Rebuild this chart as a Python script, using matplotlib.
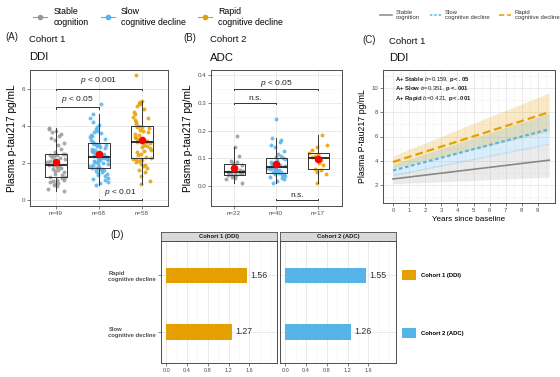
import numpy as np
import matplotlib.pyplot as plt
from matplotlib.lines import Line2D
from matplotlib.ticker import MultipleLocator

plt.rcParams['font.family'] = ['Liberation Sans', 'DejaVu Sans']
plt.rcParams['mathtext.fontset'] = 'custom'
plt.rcParams['mathtext.rm'] = 'Liberation Sans'
plt.rcParams['mathtext.it'] = 'Liberation Sans:italic'
plt.rcParams['mathtext.bf'] = 'Liberation Sans:bold'

# Grupos e cores
grupos = ['Stable\ncognition', 'Slow\ncognitive decline', 'Rapid\ncognitive decline']
cores = ['#999999', '#56B4E9', '#E69F00']

# (A) Coorte 1 (DDI) - p-tau217 pg/mL
ddi_stable = [0.48, 0.62, 0.75, 0.82, 0.88, 0.93, 0.98, 1.02, 1.08, 1.12, 1.18, 1.24,
              1.28, 1.35, 1.42, 1.5, 1.56, 1.62, 1.68, 1.74, 1.8, 1.85, 1.88, 1.9,
              1.92, 1.98, 2.05, 2.1, 2.15, 2.2, 2.26, 2.32, 2.38, 2.42, 2.46, 2.48,
              2.5, 2.62, 2.78, 2.95, 3.1, 3.22, 3.35, 3.45, 3.55, 3.65, 3.72, 3.82, 3.9]
ddi_slow = [0.85, 0.92, 1.0, 1.08, 1.15, 1.22, 1.3, 1.36, 1.42, 1.48, 1.53, 1.58, 1.62,
            1.66, 1.69, 1.72, 1.74, 1.76, 1.8, 1.85, 1.9, 1.94, 1.98, 2.02, 2.06, 2.1,
            2.13, 2.16, 2.19, 2.22, 2.25, 2.28, 2.3, 2.31, 2.33, 2.37, 2.42, 2.47, 2.52,
            2.57, 2.62, 2.67, 2.72, 2.77, 2.82, 2.87, 2.92, 2.96, 3.0, 3.03, 3.05, 3.1,
            3.15, 3.22, 3.3, 3.38, 3.45, 3.52, 3.6, 3.68, 3.75, 3.85, 3.95, 4.05, 4.2,
            4.4, 4.65, 5.2]
ddi_rapid = [0.9, 1.05, 1.3, 1.5, 1.65, 1.75, 1.85, 1.92, 1.98, 2.04, 2.1, 2.15, 2.2,
             2.23, 2.24, 2.28, 2.35, 2.42, 2.5, 2.58, 2.65, 2.72, 2.8, 2.87, 2.93, 3.0,
             3.06, 3.12, 3.14, 3.16, 3.2, 3.25, 3.3, 3.36, 3.42, 3.5, 3.58, 3.65, 3.72,
             3.8, 3.87, 3.93, 3.95, 3.98, 4.1, 4.2, 4.3, 4.4, 4.5, 4.62, 4.75, 4.9, 5.05,
             5.2, 5.25, 5.3, 5.35, 6.75]
ddi_n = ['n=49', 'n=68', 'n=58']

# (B) Coorte 2 (ADC)
adc_stable = [0.01, 0.025, 0.03, 0.035, 0.038, 0.04, 0.041, 0.043, 0.045, 0.047, 0.049,
              0.051, 0.055, 0.06, 0.07, 0.078, 0.082, 0.088, 0.092, 0.11, 0.14, 0.18]
adc_slow = [0.012, 0.02, 0.025, 0.03, 0.034, 0.038, 0.041, 0.043, 0.045, 0.046, 0.048,
            0.05, 0.052, 0.055, 0.058, 0.06, 0.062, 0.064, 0.066, 0.067, 0.069, 0.071,
            0.074, 0.077, 0.08, 0.084, 0.088, 0.093, 0.098, 0.102, 0.104, 0.108, 0.115,
            0.125, 0.14, 0.15, 0.16, 0.165, 0.172, 0.242]
adc_rapid = [0.01, 0.045, 0.05, 0.058, 0.063, 0.075, 0.085, 0.095, 0.102, 0.105, 0.11,
             0.115, 0.12, 0.13, 0.14, 0.148, 0.185]
adc_n = ['n=22', 'n=40', 'n=17']

# (C) Modelo longitudinal - ajuste e IC 95%
anos = [0, 9.7]
ajuste = {'stable': [2.5, 4.05], 'slow': [3.2, 6.6], 'rapid': [3.9, 8.0]}
ic_inf = {'stable': [2.1, 2.65], 'slow': [2.75, 5.35], 'rapid': [3.4, 6.4]}
ic_sup = {'stable': [2.9, 5.45], 'slow': [3.7, 7.9], 'rapid': [4.4, 9.6]}
nomes_c = ['Stable', 'Slow', 'Rapid']
coef_b = ['0.159', '0.351', '0.421']
valor_p = ['.05', '.001', '.001']

# (D) razao
d_cat = ['Slow\ncognitive decline', 'Rapid\ncognitive decline']
d_ddi = [1.27, 1.56]
d_adc = [1.26, 1.55]

W, H = 560, 377
fig = plt.figure(figsize=(5.6, 3.77), dpi=100)


def caixa(x0, y0, x1, y1):
    return [x0 / W, 1 - y1 / H, (x1 - x0) / W, (y1 - y0) / H]


def estilo(ax, tam=4.5):
    for s in ax.spines.values():
        s.set_color('#4d4d4d')
        s.set_linewidth(0.7)
    ax.grid(True, which='major', color='#E6E6E6', lw=0.6)
    ax.grid(True, which='minor', color='#F2F2F2', lw=0.4)
    ax.set_axisbelow(True)
    ax.tick_params(which='major', length=2, width=0.5, color='#4d4d4d',
                   labelsize=tam, labelcolor='#4d4d4d', pad=1.5)
    ax.tick_params(which='minor', length=0)


def boxes(ax, dados):
    for i, (vals, cor) in enumerate(zip(dados, cores)):
        vals = np.asarray(vals)
        k = np.arange(len(vals)) + 7 * i + 1
        # deslocamento horizontal fixo (jitter deterministico)
        jit = ((np.sin(k * 12.9898) * 43758.5453) % 1 - 0.5) * 0.42
        ax.scatter(i + 1 + jit, vals, s=8, color=cor, alpha=0.85, lw=0, zorder=2)
    ax.boxplot(dados, positions=[1, 2, 3], widths=0.5, showfliers=False, showcaps=False,
               boxprops=dict(color='#333333', lw=0.7),
               whiskerprops=dict(color='#333333', lw=0.7),
               medianprops=dict(color='#111111', lw=1.2), zorder=3)
    ax.scatter([1, 2, 3], [np.mean(v) for v in dados], s=30, color='red', lw=0, zorder=4)


def colchete(ax, x0, x1, y, h, txt, ty):
    ax.plot([x0, x0, x1, x1], [y - h, y, y, y - h], color='#333333', lw=0.7, zorder=5)
    ax.text((x0 + x1) / 2, ty, txt, ha='center', va='center', fontsize=6, color='#222222')


# ---- (A)
axA = fig.add_axes(caixa(30, 70, 168, 206))
boxes(axA, [ddi_stable, ddi_slow, ddi_rapid])
axA.set_xlim(0.4, 3.6)
axA.set_ylim(-0.3, 7.0)
axA.set_xticks([1, 2, 3])
axA.set_xticklabels(ddi_n)
axA.set_yticks([0, 2, 4, 6])
axA.yaxis.set_minor_locator(MultipleLocator(1))
estilo(axA)
axA.set_ylabel('Plasma p-tau217 pg/mL', fontsize=7.3, labelpad=3)
colchete(axA, 1, 3, 6.0, 0.08, r'$p$ < 0.001', 6.42)
colchete(axA, 1, 2, 5.0, 0.08, r'$p$ < 0.05', 5.42)
colchete(axA, 2, 3, 0.0, -0.08, r'$p$ < 0.01', 0.42)

# ---- (B)
axB = fig.add_axes(caixa(211, 70, 342, 206))
boxes(axB, [adc_stable, adc_slow, adc_rapid])
axB.set_xlim(0.45, 3.57)
axB.set_ylim(-0.071, 0.418)
axB.set_xticks([1, 2, 3])
axB.set_xticklabels(adc_n)
axB.set_yticks([0, 0.1, 0.2, 0.3, 0.4])
axB.set_yticklabels(['0.0', '0.1', '0.2', '0.3', '0.4'])
axB.yaxis.set_minor_locator(MultipleLocator(0.05))
estilo(axB)
axB.set_ylabel('Plasma p-tau217 pg/mL', fontsize=7.3, labelpad=3)
colchete(axB, 1, 3, 0.35, 0.005, r'$p$ < 0.05', 0.368)
colchete(axB, 1, 2, 0.30, 0.005, 'n.s.', 0.316)
colchete(axB, 2, 3, -0.05, -0.005, 'n.s.', -0.032)

# ---- (C)
axC = fig.add_axes(caixa(383, 70, 555, 203))
estilos = {'stable': ('#888888', '-', 1.2), 'slow': ('#56B4E9', (0, (1.6, 1.2)), 1.6),
           'rapid': ('#E69F00', (0, (3.5, 1.8)), 1.6)}
bandas = {'stable': '#A6A6A6', 'slow': '#56B4E9', 'rapid': '#E69F00'}
for k in ['stable', 'slow', 'rapid']:
    axC.fill_between(anos, ic_inf[k], ic_sup[k], color=bandas[k], alpha=0.22, lw=0, zorder=1)
for k in ['stable', 'slow', 'rapid']:
    cor, ls, lw = estilos[k]
    axC.plot(anos, ajuste[k], color=cor, ls=ls, lw=lw, zorder=3)
axC.set_xlim(-0.62, 10.06)
axC.set_ylim(0.52, 11.48)
axC.set_xticks(range(10))
axC.xaxis.set_minor_locator(MultipleLocator(0.5))
axC.set_yticks([2, 4, 6, 8, 10])
axC.yaxis.set_minor_locator(MultipleLocator(1))
estilo(axC, 4.3)
axC.set_ylabel('Plasma P-tau217 pg/mL', fontsize=6.3, labelpad=3)
axC.set_xlabel('Years since baseline', fontsize=5.8, labelpad=2)
for i, (nm, b, p) in enumerate(zip(nomes_c, coef_b, valor_p)):
    axC.text(0.15, 10.7 - i * 0.78,
             r'$\mathbf{A{+}\ ' + nm + r'}$ $b$=' + b + r', $\mathbf{p<' + p + '}$',
             fontsize=4.3, va='center', ha='left', color='#222222')

# ---- (D)
for j, (x0, x1, vals, cor, titulo) in enumerate([(161, 277, d_ddi, '#E69F00', 'Cohort 1 (DDI)'),
                                                  (280, 396, d_adc, '#56B4E9', 'Cohort 2 (ADC)')]):
    axD = fig.add_axes(caixa(x0, 241, x1, 363))
    barras = axD.barh([0, 1], vals, height=0.27, color=cor, zorder=2, label=titulo)
    for y, v in zip([0, 1], vals):
        axD.text(v + 0.06, y, f'{v:.2f}', va='center', ha='left', fontsize=6.3, color='#333333')
    axD.set_xlim(-0.1, 2.13)
    axD.set_ylim(-0.55, 1.61)
    axD.set_xticks([0, 0.4, 0.8, 1.2, 1.6])
    axD.set_xticklabels(['0.0', '0.4', '0.8', '1.2', '1.6'])
    axD.xaxis.set_minor_locator(MultipleLocator(0.2))
    axD.set_yticks([0, 1])
    estilo(axD, 4.0)
    if j == 0:
        axD.set_yticklabels(d_cat, fontsize=4.2, fontweight='bold')
        for t in axD.get_yticklabels():
            t.set_multialignment('left')
        handles_d = [barras]
    else:
        axD.set_yticklabels([])
        axD.tick_params(axis='y', length=0)
        handles_d.append(barras)
    hd = fig.add_axes(caixa(x0, 232, x1, 241))
    hd.set_facecolor('#D9D9D9')
    hd.set_xticks([])
    hd.set_yticks([])
    for s in hd.spines.values():
        s.set_color('#4d4d4d')
        s.set_linewidth(0.6)
    hd.text(0.5, 0.45, titulo, transform=hd.transAxes, ha='center', va='center',
            fontsize=4.2, fontweight='bold', color='#1a1a1a')

fig.legend(handles_d, ['Cohort 1 (DDI)', 'Cohort 2 (ADC)'], loc='center left',
           bbox_to_anchor=(402 / W, 1 - 304 / H), frameon=False,
           prop={'size': 4.2, 'weight': 'bold'}, handlelength=2.4, handleheight=2.4,
           labelspacing=8.2, handletextpad=0.8, borderaxespad=0, borderpad=0)

# Legendas superiores
hA = [Line2D([0], [0], color=c, lw=0.8, marker='o', ms=3) for c in cores]
fig.legend(hA, grupos, loc='center', bbox_to_anchor=(158 / W, 1 - 17 / H), ncol=3,
           frameon=False, fontsize=6.3, handlelength=1.6, columnspacing=1.4,
           handletextpad=0.7, borderpad=0)
hC = [Line2D([0], [0], color=estilos[k][0], ls=estilos[k][1], lw=1.1)
      for k in ['stable', 'slow', 'rapid']]
fig.legend(hC, grupos, loc='center', bbox_to_anchor=(470 / W, 1 - 15 / H), ncol=3,
           frameon=False, fontsize=4.3, handlelength=2.0, columnspacing=1.6,
           handletextpad=0.6, borderpad=0, labelcolor='#333333')

# Rotulos dos paineis
for x, y, t in [(5, 37, '(A)'), (183, 38, '(B)'), (362, 40, '(C)'), (110, 235, '(D)')]:
    fig.text(x / W, 1 - y / H, t, fontsize=7, va='center', ha='left', color='#222222')
for x, y1, y2, c, d in [(29, 39, 57, 'Cohort 1', 'DDI'), (210, 40, 58, 'Cohort 2', 'ADC'),
                        (389, 42, 58, 'Cohort 1', 'DDI')]:
    fig.text(x / W, 1 - y1 / H, c, fontsize=6.8, va='center', ha='left', color='#111111')
    fig.text(x / W, 1 - y2 / H, d, fontsize=8.2, va='center', ha='left', color='#111111')

fig.savefig('out.png', dpi=100)
